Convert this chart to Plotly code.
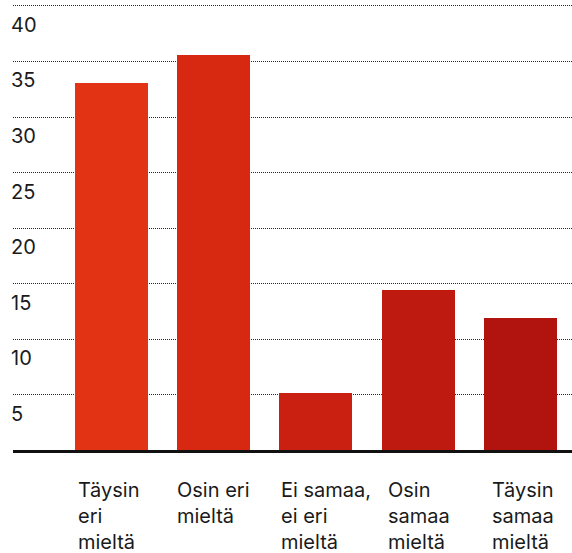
import plotly.graph_objects as go

categories = ["Täysin<br>eri<br>mieltä", "Osin eri<br>mieltä", "Ei samaa,<br>ei eri<br>mieltä",
              "Osin<br>samaa<br>mieltä", "Täysin<br>samaa<br>mieltä"]
values = [33.1, 35.6, 5.1, 14.4, 11.9]
bar_colors = ["#E23414", "#D72812", "#C92011", "#BE1A0F", "#B1130E"]
y_ticks = [5, 10, 15, 20, 25, 30, 35, 40]

font = "Inter, Roboto, sans-serif"
positions = list(range(len(categories)))
label_nudge = [-2, -1, 10, 1, 3]  # tekstilaatikoiden pieni vaakasiirto (px)

fig = go.Figure()
fig.add_trace(go.Bar(
    x=positions,
    y=values,
    width=0.714,
    marker=dict(color=bar_colors, line=dict(width=0)),
    hoverinfo="skip",
))

# kategorioiden tekstit vasemmalle tasattuina palkkien alle
for i, label in enumerate(categories):
    fig.add_annotation(
        x=i, y=0, xref="x", yref="paper",
        text=label, showarrow=False,
        xanchor="center", yanchor="top", align="left",
        yshift=-26, xshift=label_nudge[i],
        font=dict(family=font, size=20, color="#1a1a1a"),
    )

fig.update_layout(
    width=572, height=553,
    margin=dict(l=13, r=0, t=0, b=103),
    paper_bgcolor="white",
    plot_bgcolor="white",
    showlegend=False,
    bargap=0,
    font=dict(family=font, size=20, color="#1a1a1a"),
    xaxis=dict(
        range=[-0.963, 4.504],
        automargin=False,
        showticklabels=False,
        showgrid=False,
        zeroline=False,
        showline=True,
        linecolor="#111111",
        linewidth=3,
        ticks="",
    ),
    yaxis=dict(
        range=[0, 40.54],
        automargin=False,
        tickvals=y_ticks,
        ticktext=[str(v) for v in y_ticks],
        ticklabelposition="inside",
        ticklabelshift=19,
        ticklabelstandoff=-5,
        showgrid=True,
        gridcolor="#3a1f1f",
        griddash="1px,1px",
        gridwidth=1,
        zeroline=False,
        showline=False,
        ticks="",
        tickfont=dict(family=font, size=20, color="#1a1a1a"),
    ),
)

# sivun oletusmarginaali pois, jotta kuva alkaa vasemmasta yläkulmasta
fig.write_html("out.html", config={"displayModeBar": False},
               post_script="document.body.style.margin='0';")
